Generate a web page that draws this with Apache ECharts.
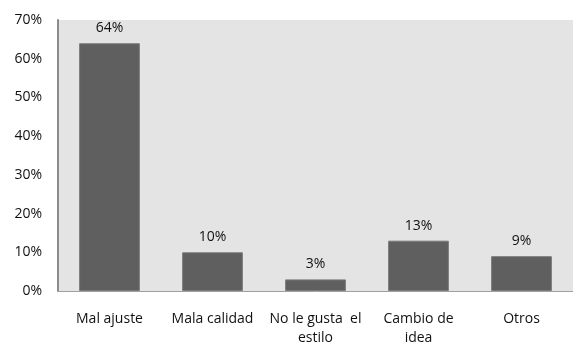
<!DOCTYPE html>
<html>
<head>
<meta charset="utf-8">
<style>
  html, body { margin: 0; padding: 0; background: #ffffff; }
  #chart { width: 573px; height: 342px; }
</style>
<script src="https://cdn.jsdelivr.net/npm/echarts@6/dist/echarts.min.js"></script>
</head>
<body>
<div id="chart"></div>
<script>
// Reasons for returns (share of responses, %)
const categories = ['Mal ajuste', 'Mala calidad', 'No le gusta  el\nestilo', 'Cambio de\nidea', 'Otros'];
const values = [64, 10, 3, 13, 9];
const yTicks = [0, 10, 20, 30, 40, 50, 60, 70];

const chart = echarts.init(document.getElementById('chart'), null, { renderer: 'canvas' });
const font = '"Open Sans", "Liberation Sans", sans-serif';
const yMin = yTicks[0], yMax = yTicks[yTicks.length - 1];

chart.setOption({
  animation: false,
  backgroundColor: '#ffffff',
  grid: {
    left: 58, right: 0, top: 20, bottom: 51,
    outerBoundsMode: 'none',
    containLabel: false
  },
  xAxis: {
    type: 'category',
    data: categories,
    z: 5,
    axisLine: { show: true, lineStyle: { color: '#a0a0a0', width: 1 } },
    axisTick: { show: false },
    axisLabel: {
      interval: 0, margin: 19, color: '#111', fontFamily: font, fontSize: 14, lineHeight: 19
    }
  },
  yAxis: {
    type: 'value',
    min: yMin, max: yMax, interval: 10,
    z: 5,
    axisLine: { show: true, lineStyle: { color: '#8c8c8c', width: 2 } },
    axisTick: { show: false },
    splitLine: { show: false },
    axisLabel: {
      margin: 16, color: '#111', fontFamily: font, fontSize: 14,
      formatter: v => v + '%'
    }
  },
  series: [{
    type: 'bar',
    data: values,
    barCategoryGap: '41%',
    z: 3,
    itemStyle: { color: '#5f5f5f', borderColor: '#7a7a7a', borderWidth: 1 },
    label: {
      show: true, position: 'top', distance: 8,
      color: '#111', fontFamily: font, fontSize: 14,
      formatter: p => p.value + '%'
    },
    // plot-area shading behind the bars
    markArea: {
      silent: true,
      z: 1,
      itemStyle: { color: '#e4e4e4' },
      data: [[{ yAxis: yMin }, { yAxis: yMax }]]
    }
  }]
});
</script>
</body>
</html>
